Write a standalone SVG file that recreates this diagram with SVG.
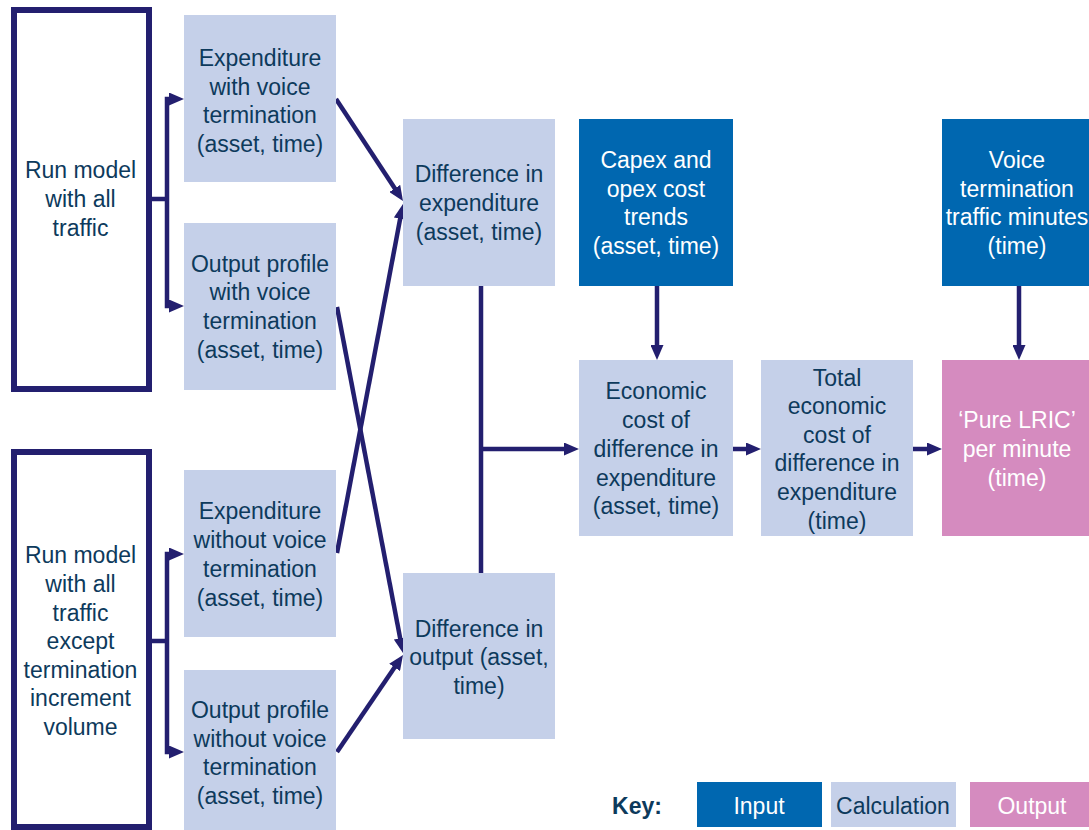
<svg xmlns="http://www.w3.org/2000/svg" width="1089" height="830" viewBox="0 0 1089 830">
<style>
text{font-family:"Liberation Sans",Arial,sans-serif;font-size:23px;text-anchor:middle}
.calc{fill:#C5D0E9}
.inp{fill:#0067B0}
.out{fill:#D58BBF}
.run{fill:#FFFFFF;stroke:#231F6F;stroke-width:6}
.dk{fill:#0D3A5C}
.wt{fill:#FFFFFF}
.ln{fill:none;stroke:#231F6F;stroke-width:4.5;stroke-linejoin:miter}
.ar{marker-end:url(#ah)}
</style>
<defs>
<marker id="ah" markerUnits="userSpaceOnUse" markerWidth="15" markerHeight="13" refX="5" refY="6.5" orient="auto" viewBox="0 0 15 13">
<path d="M0,0 L15,6.5 L0,13 z" fill="#231F6F"/>
</marker>
</defs>
<g id="connectors">
<path class="ln" d="M149,199 H167"/>
<path class="ln ar" d="M167,199 V99 H174"/>
<path class="ln ar" d="M167,199 V306 H174"/>
<path class="ln" d="M149,641 H167"/>
<path class="ln ar" d="M167,641 V554 H174"/>
<path class="ln ar" d="M167,641 V752 H174"/>
<path class="ln ar" d="M336,99 L397.5,192.6"/>
<path class="ln ar" d="M337,553 L401.1,213.8"/>
<path class="ln ar" d="M337,307 L401.1,643.2"/>
<path class="ln ar" d="M337,752 L397.4,663.3"/>
<path class="ln" d="M481,286 V573"/>
<path class="ln ar" d="M481,449 H569"/>
<path class="ln ar" d="M657,286 V350"/>
<path class="ln ar" d="M1019,286 V350"/>
<path class="ln ar" d="M733,449 H751"/>
<path class="ln ar" d="M913,449 H932"/>
</g>
<g id="run1">
<rect class="run" x="14" y="10" width="135" height="379"/>
<text class="dk"><tspan x="80.5" y="178">Run model</tspan><tspan x="80.5" y="207">with all</tspan><tspan x="80.5" y="236">traffic</tspan></text>
</g>
<g id="run2">
<rect class="run" x="14" y="452" width="135" height="375"/>
<text class="dk"><tspan x="80.5" y="563">Run model</tspan><tspan x="80.5" y="592">with all</tspan><tspan x="80.5" y="621">traffic</tspan><tspan x="80.5" y="649">except</tspan><tspan x="80.5" y="678">termination</tspan><tspan x="80.5" y="706">increment</tspan><tspan x="80.5" y="735">volume</tspan></text>
</g>
<g id="expWith">
<rect class="calc" x="184" y="15" width="152" height="167"/>
<text class="dk"><tspan x="260" y="66">Expenditure</tspan><tspan x="260" y="95">with voice</tspan><tspan x="260" y="123">termination</tspan><tspan x="260" y="152">(asset, time)</tspan></text>
</g>
<g id="outWith">
<rect class="calc" x="184" y="223" width="152" height="167"/>
<text class="dk"><tspan x="260" y="272">Output profile</tspan><tspan x="260" y="300">with voice</tspan><tspan x="260" y="329">termination</tspan><tspan x="260" y="358">(asset, time)</tspan></text>
</g>
<g id="expWithout">
<rect class="calc" x="184" y="470" width="152" height="167"/>
<text class="dk"><tspan x="260" y="519">Expenditure</tspan><tspan x="260" y="548">without voice</tspan><tspan x="260" y="577">termination</tspan><tspan x="260" y="606">(asset, time)</tspan></text>
</g>
<g id="outWithout">
<rect class="calc" x="184" y="670" width="152" height="160"/>
<text class="dk"><tspan x="260" y="718">Output profile</tspan><tspan x="260" y="747">without voice</tspan><tspan x="260" y="775">termination</tspan><tspan x="260" y="804">(asset, time)</tspan></text>
</g>
<g id="diffExp">
<rect class="calc" x="403" y="119" width="152" height="167"/>
<text class="dk"><tspan x="479" y="182">Difference in</tspan><tspan x="479" y="211">expenditure</tspan><tspan x="479" y="240">(asset, time)</tspan></text>
</g>
<g id="diffOut">
<rect class="calc" x="403" y="573" width="152" height="166"/>
<text class="dk"><tspan x="479" y="637">Difference in</tspan><tspan x="479" y="665">output (asset,</tspan><tspan x="479" y="694">time)</tspan></text>
</g>
<g id="capex">
<rect class="inp" x="579" y="119" width="154" height="167"/>
<text class="wt"><tspan x="656" y="168">Capex and</tspan><tspan x="656" y="197">opex cost</tspan><tspan x="656" y="225">trends</tspan><tspan x="656" y="254">(asset, time)</tspan></text>
</g>
<g id="voice">
<rect class="inp" x="942" y="119" width="147" height="167"/>
<text class="wt"><tspan x="1017" y="168">Voice</tspan><tspan x="1017" y="197">termination</tspan><tspan x="1017" y="225">traffic minutes</tspan><tspan x="1017" y="254">(time)</tspan></text>
</g>
<g id="econ">
<rect class="calc" x="579" y="360" width="154" height="176"/>
<text class="dk"><tspan x="656" y="399">Economic</tspan><tspan x="656" y="428">cost of</tspan><tspan x="656" y="457">difference in</tspan><tspan x="656" y="486">expenditure</tspan><tspan x="656" y="514">(asset, time)</tspan></text>
</g>
<g id="total">
<rect class="calc" x="761" y="360" width="152" height="176"/>
<text class="dk"><tspan x="837" y="386">Total</tspan><tspan x="837" y="414">economic</tspan><tspan x="837" y="443">cost of</tspan><tspan x="837" y="471">difference in</tspan><tspan x="837" y="500">expenditure</tspan><tspan x="837" y="529">(time)</tspan></text>
</g>
<g id="lric">
<rect class="out" x="942" y="360" width="147" height="176"/>
<text class="wt"><tspan x="1017" y="428">‘Pure LRIC’</tspan><tspan x="1017" y="457">per minute</tspan><tspan x="1017" y="486">(time)</tspan></text>
</g>
<g id="key">
<text class="dk" x="637" y="814" style="font-weight:bold">Key:</text>
<rect class="inp" x="697" y="782" width="125" height="45"/>
<text class="wt" x="759" y="814">Input</text>
<rect class="calc" x="831" y="782" width="125" height="45"/>
<text class="dk" x="893" y="814">Calculation</text>
<rect class="out" x="970" y="782" width="119" height="45"/>
<text class="wt" x="1032" y="814">Output</text>
</g>
</svg>
